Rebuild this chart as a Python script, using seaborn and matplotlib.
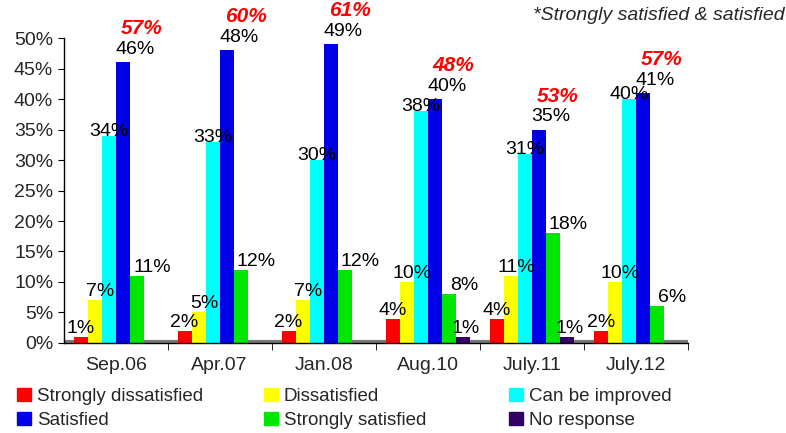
import pandas as pd
import numpy as np
import seaborn as sns
import matplotlib.pyplot as plt
from matplotlib.ticker import PercentFormatter, FixedLocator

# Data
periods = ['Sep.06', 'Apr.07', 'Jan.08', 'Aug.10', 'July.11', 'July.12']
responses = ['Strongly dissatisfied', 'Dissatisfied', 'Can be improved',
             'Satisfied', 'Strongly satisfied', 'No response']

strongly_dissatisfied = [1, 2, 2, 4, 4, 2]
dissatisfied = [7, 5, 7, 10, 11, 10]
can_be_improved = [34, 33, 30, 38, 31, 40]
satisfied = [46, 48, 49, 40, 35, 41]
strongly_satisfied = [11, 12, 12, 8, 18, 6]
no_response = [0, 0, 0, 1, 1, 0]

totals = [57, 60, 61, 48, 53, 57]  # strongly satisfied & satisfied

colors = ['#ff0000', '#ffff00', '#00ffff', '#0000e6', '#00e600', '#330066']

series = [strongly_dissatisfied, dissatisfied, can_be_improved,
          satisfied, strongly_satisfied, no_response]

rows = []
for name, vals in zip(responses, series):
    for p, v in zip(periods, vals):
        rows.append({'period': p, 'response': name, 'value': v / 100})
df = pd.DataFrame(rows)

# Plot
sns.set_style('white')
plt.rcParams['font.family'] = ['Liberation Sans', 'DejaVu Sans']

fig = plt.figure(figsize=(7.86, 4.33), dpi=100)
ax = fig.add_axes([0.081, 0.208, 0.794, 0.704])

sns.barplot(data=df, x='period', y='value', hue='response', order=periods,
            hue_order=responses, palette=colors, width=0.81, ax=ax,
            saturation=1, edgecolor='none', legend=False)

ax.set_ylim(0, 0.5)
ax.set_xlim(-0.5, len(periods) - 0.5)
ax.set_yticks(np.arange(0, 0.51, 0.05))
ax.yaxis.set_major_formatter(PercentFormatter(1.0, decimals=0))
ax.set_xlabel('')
ax.set_ylabel('')
ax.tick_params(axis='both', labelsize=14)
ax.tick_params(axis='y', length=4, direction='out', left=True, color='black')
ax.tick_params(axis='x', which='major', length=0, pad=10)
ax.xaxis.set_minor_locator(FixedLocator(np.arange(0.5, len(periods), 1.0)))
ax.tick_params(axis='x', which='minor', length=5, direction='out', bottom=True, color='black')
for s in ['top', 'right']:
    ax.spines[s].set_visible(False)
for s in ['left', 'bottom']:
    ax.spines[s].set_color('black')
    ax.spines[s].set_linewidth(1)
ax.axhline(0.002, color='#777777', lw=3, zorder=0)

# value labels (offsets per series in points)
bw = 0.81 / len(responses)
x_shift = [0, 4, 0, 9, 11, 2]
y_shift = [0, 0, -3, 3, 0, 0]
for j, vals in enumerate(series):
    for i, v in enumerate(vals):
        if v == 0:
            continue
        x = i + (j - 2.5) * bw
        ax.annotate(f'{v}%', (x, v / 100), xytext=(x_shift[j], y_shift[j]),
                    textcoords='offset points', ha='center', va='bottom',
                    fontsize=14, color='black', annotation_clip=False)

# totals
for i, t in enumerate(totals):
    ax.text(i + 0.25, satisfied[i] / 100 + 0.055, f'{t}%', ha='center',
            va='center', fontsize=15, color='red', fontweight='bold',
            fontstyle='italic', clip_on=False)

fig.text(0.998, 0.965, '*Strongly satisfied & satisfied', ha='right',
         va='center', fontsize=14, fontstyle='italic')

# legend: three columns, row-major
handles = [plt.Rectangle((0, 0), 1, 1, color=c) for c in colors]
col_x = [0.022, 0.336, 0.648]
for c in range(3):
    idx = [c, c + 3]
    leg = fig.legend([handles[k] for k in idx], [responses[k] for k in idx],
                     loc='center left', bbox_to_anchor=(col_x[c], 0.057),
                     frameon=False, fontsize=13.5, handlelength=0.75,
                     handleheight=0.75, handletextpad=0.3, labelspacing=0.35,
                     borderpad=0, borderaxespad=0)

fig.savefig('out.png', dpi=100)
